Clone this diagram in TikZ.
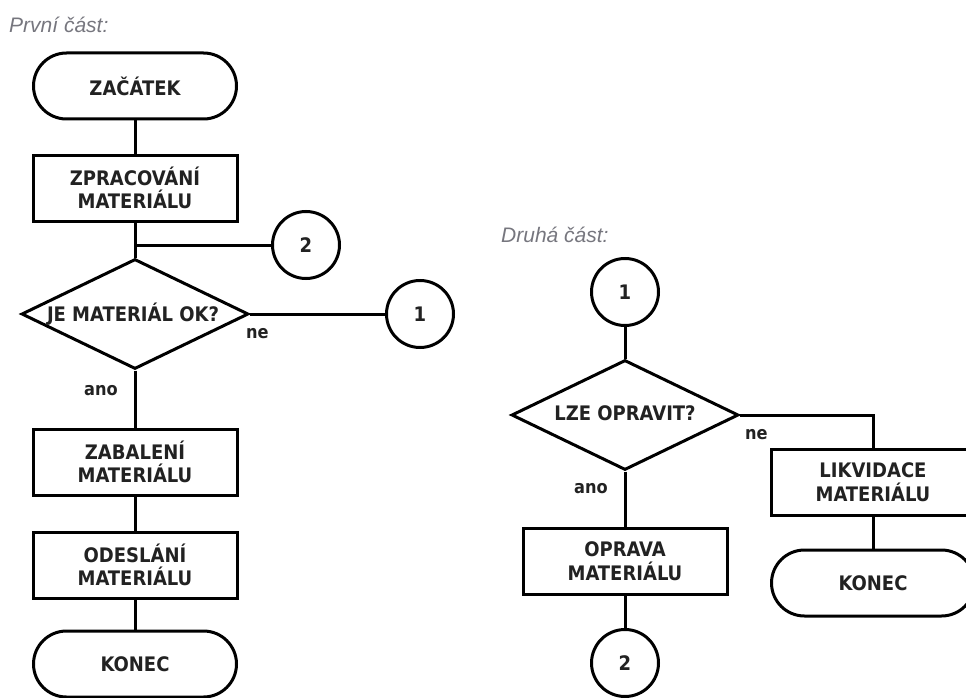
\documentclass[tikz,border=0pt]{standalone}
\usepackage{fontspec}
\setmainfont{DejaVu Sans Condensed}
\newfontfamily\capfont{Liberation Sans}
\usetikzlibrary{shapes.geometric}
\definecolor{inkgray}{RGB}{34,34,34}
\definecolor{titlegray}{RGB}{118,118,126}
\begin{document}
\begin{tikzpicture}[x=1pt,y=-1pt,
  every node/.style={inner sep=0pt},
  flow/.style={line width=3pt,black},
  boxtext/.style={font=\fontsize{20}{23.5}\selectfont\bfseries,text=inkgray,align=center},
  terminal/.style={flow,draw,fill=white,rectangle,rounded corners=33pt,
    minimum width=203pt,minimum height=66pt,boxtext},
  process/.style={flow,draw,fill=white,rectangle,
    minimum width=204pt,minimum height=66pt,boxtext},
  decision/.style={flow,draw,fill=white,diamond,
    minimum width=227pt,minimum height=110pt},
  connector/.style={flow,draw,fill=white,circle,minimum size=67pt,boxtext},
  branch/.style={font=\fontsize{18}{20}\selectfont\bfseries,text=inkgray},
  heading/.style={font=\capfont\itshape\fontsize{21}{24}\selectfont,text=titlegray,anchor=west}]
\useasboundingbox (0,0) rectangle (966,698);
\clip (0,0) rectangle (966,698);

% headings
\node[heading] (h1) at (9,25) {První část:};
\node[heading] (h2) at (501,235) {Druhá část:};

% first part
\node[terminal] (start) at (135,86) {ZAČÁTEK};
\node[process]  (proc)  at (135,188) {ZPRACOVÁNÍ\\MATERIÁLU};
\node[connector] (c2a)  at (306,245) {2};
\coordinate (j) at (135,245);
\node[decision] (dec)   at (135,314) {};
\node[boxtext] (dect) at (133,314) {JE MATERIÁL OK?};
\node[connector] (c1a)  at (420,314) {1};
\node[process]  (pack)  at (135,462) {ZABALENÍ\\MATERIÁLU};
\node[process]  (send)  at (135,565) {ODESLÁNÍ\\MATERIÁLU};
\node[terminal] (end)   at (135,664) {KONEC};
\node[branch,anchor=west] (ne1) at (246,334) {ne};
\node[branch,anchor=east] (ano1) at (118,391) {ano};

% second part
\node[connector] (c1b)  at (625,292) {1};
\node[decision] (rdec)  at (625,415) {};
\node[boxtext] (rdect) at (625,413) {LZE OPRAVIT?};
\node[process]  (liq)   at (873,482) {LIKVIDACE\\MATERIÁLU};
\node[terminal] (rend)  at (873,583) {KONEC};
\node[process]  (fix)   at (625,561) {OPRAVA\\MATERIÁLU};
\node[connector] (c2b)  at (625,663) {2};
\node[branch,anchor=west] (ne2) at (745,435) {ne};
\node[branch,anchor=east] (ano2) at (608,489) {ano};

% connectors
\draw[flow] (start.south) -- (proc.north);
\draw[flow] (proc.south) -- (dec.north);
\draw[flow] (j) -- (c2a.west);
\draw[flow] (dec.east) -- (c1a.west);
\draw[flow] (dec.south) -- (pack.north);
\draw[flow] (pack.south) -- (send.north);
\draw[flow] (send.south) -- (end.north);

\draw[flow] (c1b.south) -- (rdec.north);
\draw[flow] (rdec.east) -| (liq.north);
\draw[flow] (liq.south) -- (rend.north);
\draw[flow] (rdec.south) -- (fix.north);
\draw[flow] (fix.south) -- (c2b.north);
\end{tikzpicture}
\end{document}
